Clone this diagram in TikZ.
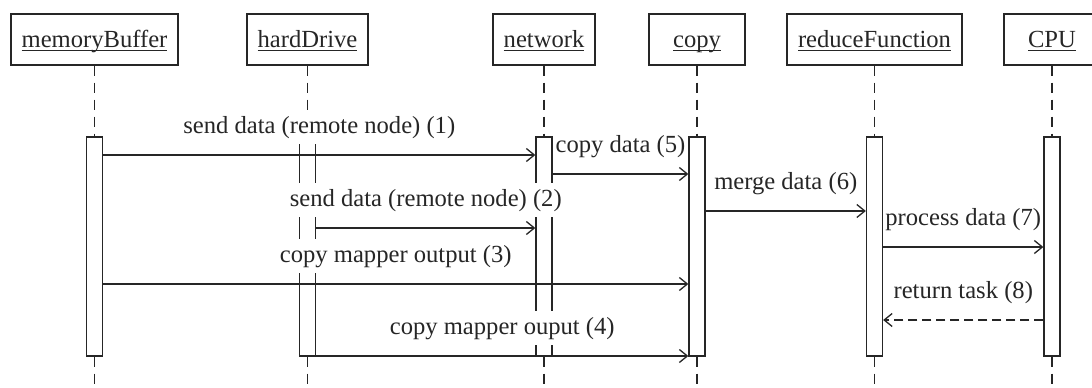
\documentclass[tikz,border=0pt]{standalone}
\usepackage{fontspec}
\setmainfont{Liberation Serif}
\usetikzlibrary{arrows.meta}
\definecolor{ink}{gray}{0.15}
\newlength\ulwd
\newcommand\ulname[1]{\settowidth{\ulwd}{#1}\rlap{\rule[-3.2pt]{\ulwd}{1.2pt}}#1}
\begin{document}
\begin{tikzpicture}[x=1pt,y=-1pt,
  font=\fontsize{24.6}{29}\selectfont,
  obj/.style={draw=ink, line width=1.3pt, rectangle, minimum height=51pt,
    text height=16pt, text depth=0pt, inner sep=0pt, text=ink},
  act/.style={draw=ink, fill=white, line width=1.3pt, rectangle,
    minimum width=16pt, minimum height=219pt, inner sep=0pt},
  life/.style={draw=ink, line width=1.3pt, dash pattern=on 10pt off 7pt},
  msg/.style={draw=ink, line width=1.3pt, -{Straight Barb[length=8pt,width=13pt]}},
  reply/.style={msg, dash pattern=on 9pt off 5pt},
  lbl/.style={fill=white, text=ink, inner xsep=2pt, inner ysep=6pt,
    anchor=base, yshift=22pt}]
\useasboundingbox (0,0) rectangle (1092,388);
\clip (0,0) rectangle (1092,388);
\coordinate (bot) at (0,395);
\foreach \n/\x/\w/\t in {MB/94.5/167/memoryBuffer, HD/307.5/121/hardDrive,
    NW/544/102/network, CP/697/96/copy, RF/874.5/175/reduceFunction, CU/1052/96/CPU} {
  \node[obj, minimum width=\w pt] (o\n) at (\x,39.5) {\ulname{\t}};
  \node[act] (a\n) at (\x,246.5) {};
}
\foreach \n in {MB,HD,NW,CP,RF,CU} {
  \draw[life] (o\n) -- (a\n);
  \draw[life] (a\n.south) -- (a\n.south |- bot);
}
\coordinate (y1) at (0,155);
\coordinate (y2) at (0,228);
\coordinate (y3) at (0,284);
\coordinate (y4) at (0,356);
\coordinate (y5) at (0,174);
\coordinate (y6) at (0,211);
\coordinate (y7) at (0,247);
\coordinate (y8) at (0,320);
\draw[msg] (aMB.east |- y1) -- node[lbl] {send data (remote node) (1)} (aNW.west |- y1);
\draw[msg] (aHD.east |- y2) -- node[lbl] {send data (remote node) (2)} (aNW.west |- y2);
\draw[msg] (aMB.east |- y3) -- node[lbl] {copy mapper output (3)} (aCP.west |- y3);
\draw[msg] (aHD.east |- y4) -- node[lbl] {copy mapper ouput (4)} (aCP.west |- y4);
\draw[msg] (aNW.east |- y5) -- node[lbl] {copy data (5)} (aCP.west |- y5);
\draw[msg] (aCP.east |- y6) -- node[lbl] {merge data (6)} (aRF.west |- y6);
\draw[msg] (aRF.east |- y7) -- node[lbl] {process data (7)} (aCU.west |- y7);
\draw[reply] (aCU.west |- y8) -- node[lbl] {return task (8)} (aRF.east |- y8);
\end{tikzpicture}
\end{document}
